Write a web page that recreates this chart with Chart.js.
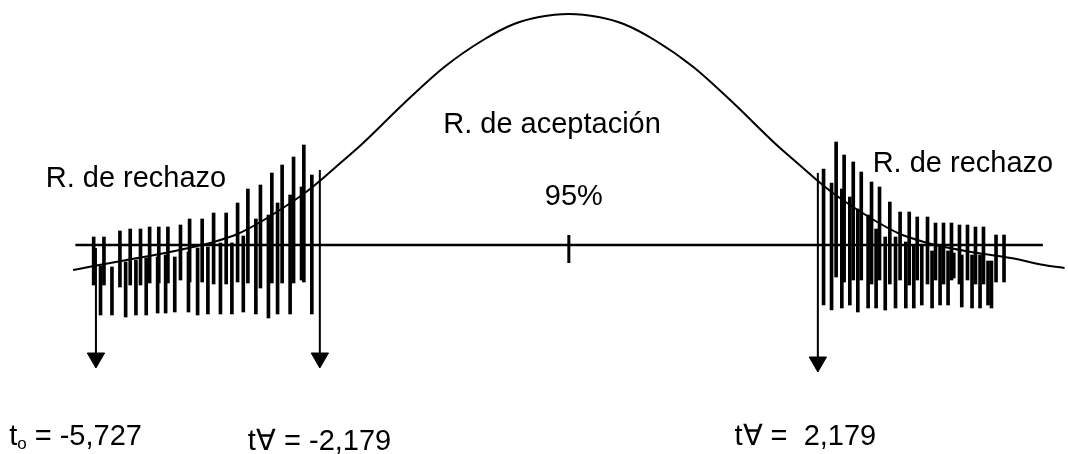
<!DOCTYPE html>
<html lang="es">
<head>
<meta charset="UTF-8">
<title>Distribución t - regiones de aceptación y rechazo</title>
<script src="https://cdn.jsdelivr.net/npm/chart.js"></script>
<style>
    body { margin: 0; background: #fff; }
    #contenedor { width: 1068px; height: 454px; }
</style>
</head>
<body>

<div id="contenedor"><canvas id="grafico"></canvas></div>

<script>
// curva de la distribución (valor t, altura)
const tCurva = [-4.34, -4.16, -3.87, -3.58, -3.29, -3.11, -2.90, -2.70, -2.45, -2.30, -2.16, -2.01, -1.82, -1.44, -1.09, -0.75, -0.48, -0.26, 0,
    0.26, 0.48, 0.75, 1.09, 1.44, 1.82, 2.01, 2.16, 2.30, 2.45, 2.70, 2.90, 3.11, 3.29, 3.58, 3.87, 4.16, 4.34];
const yCurva = [-0.25, -0.21, -0.15, -0.09, -0.02, 0.03, 0.11, 0.23, 0.41, 0.53, 0.66, 0.81, 1.00, 1.42, 1.78, 2.05, 2.21, 2.28, 2.31,
    2.28, 2.21, 2.05, 1.78, 1.42, 1.00, 0.81, 0.66, 0.53, 0.41, 0.23, 0.11, 0.03, -0.02, -0.08, -0.13, -0.20, -0.23];

// eje horizontal y marca del centro
const tEje = [-4.32, 4.15];
const yMarca = [0.10, -0.18];

// rayado de las regiones de rechazo (izquierda y derecha)
const tRayas = [-4.16, -4.10, -4.07, -4.00, -3.93, -3.88, -3.84, -3.79, -3.75, -3.70,
    -3.67, -3.60, -3.59, -3.53, -3.51, -3.45, -3.40, -3.33, -3.32, -3.25,
    -3.21, -3.16, -3.11, -3.05, -3.00, -2.95, -2.90, -2.85, -2.81, -2.74,
    -2.70, -2.63, -2.60, -2.55, -2.51, -2.44, -2.41, -2.34, -2.32, -2.25,
    2.23, 2.30, 2.34, 2.39, 2.41, 2.46, 2.49, 2.53, 2.56, 2.62,
    2.65, 2.69, 2.72, 2.77, 2.81, 2.86, 2.90, 2.95, 2.98, 3.02,
    3.05, 3.09, 3.14, 3.18, 3.21, 3.25, 3.28, 3.32, 3.35, 3.37,
    3.42, 3.44, 3.49, 3.53, 3.56, 3.60, 3.63, 3.67, 3.70, 3.74, 3.81];
const rayasArriba = [0.08, -0.21, 0.08, -0.22, 0.14, -0.17, 0.16, -0.15, 0.16, -0.13,
    0.18, -0.12, 0.18, -0.10, 0.18, -0.12, 0.20, -0.07, 0.26, -0.03,
    0.26, -0.02, 0.32, 0.02, 0.32, 0.02, 0.42, 0.09, 0.56, 0.26,
    0.60, 0.30, 0.72, 0.42, 0.80, 0.50, 0.88, 0.58, 1.00, 0.70,
    0.76, 0.62, 1.03, 0.56, 0.90, 0.48, 0.83, 0.36, 0.73, 0.30,
    0.63, 0.16, 0.58, 0.08, 0.43, 0.08, 0.33, 0.03, 0.33, -0.01,
    0.28, -0.01, 0.28, -0.06, 0.22, -0.01, 0.22, -0.06, 0.22, -0.08,
    0.20, -0.10, 0.20, -0.10, 0.18, -0.10, 0.18, -0.16, -0.16, 0.10, 0.10];
const rayasAbajo = [-0.40, -0.70, -0.40, -0.70, -0.42, -0.72, -0.40, -0.70, -0.40, -0.70,
    -0.38, -0.68, -0.38, -0.68, -0.38, -0.67, -0.35, -0.67, -0.37, -0.70,
    -0.37, -0.69, -0.39, -0.69, -0.39, -0.69, -0.37, -0.67, -0.38, -0.69,
    -0.43, -0.73, -0.38, -0.69, -0.38, -0.69, -0.38, -0.35, -0.37, -0.69,
    -0.60, -0.65, -0.32, -0.63, -0.37, -0.60, -0.35, -0.67, -0.35, -0.63,
    -0.39, -0.63, -0.35, -0.65, -0.39, -0.63, -0.35, -0.63, -0.40, -0.63,
    -0.35, -0.60, -0.39, -0.63, -0.35, -0.60, -0.39, -0.60, -0.35, -0.33,
    -0.39, -0.62, -0.35, -0.63, -0.39, -0.63, -0.39, -0.60, -0.63, -0.37, -0.37];

// flechas: t0 y los dos valores críticos
const tFlechas = [-4.14, -2.18, 2.18];
const flechaDesde = [-0.03, 0.75, 0.72];
const flechaHasta = [-1.13, -1.13, -1.17];

// textos
const regiones = ['R. de rechazo', 'R. de aceptación', '95%', 'R. de rechazo'];
const valoresT = ['-5,727', '-2,179', ' 2,179'];

const fuente = '"Liberation Sans", Arial, sans-serif';

// escribe los textos usando las escalas del gráfico
const textos = {
    id: 'textos',
    afterDatasetsDraw(chart) {
        const ctx = chart.ctx;
        const sx = chart.scales.x;
        const sy = chart.scales.y;
        const px = t => sx.getPixelForValue(t);
        const py = v => sy.getPixelForValue(v);

        ctx.save();
        ctx.fillStyle = '#000';
        ctx.textBaseline = 'alphabetic';
        ctx.font = '29px ' + fuente;

        const posRegiones = [[-4.58, 0.58], [-1.10, 1.12], [-0.21, 0.40], [2.66, 0.73]];
        regiones.forEach((txt, i) => {
            ctx.fillText(txt, px(posRegiones[i][0]), py(posRegiones[i][1]));
        });

        // t con subíndice o
        let x0 = px(-4.90), y0 = py(-2.00);
        ctx.fillText('t', x0, y0);
        x0 += ctx.measureText('t').width;
        ctx.font = '17px ' + fuente;
        ctx.fillText('o', x0, y0 + 4);
        x0 += ctx.measureText('o').width;
        ctx.font = '29px ' + fuente;
        ctx.fillText(' = ' + valoresT[0], x0, y0);

        ctx.fillText('t\u2200 = ' + valoresT[1], px(-2.81), py(-2.05));
        ctx.fillText('t\u2200 = ' + valoresT[2], px(1.45), py(-2.00));
        ctx.restore();
    }
};

const datasets = [];

// rayas verticales como barras flotantes
datasets.push({
    type: 'bar',
    data: tRayas.map((t, i) => ({ x: t, y: [rayasAbajo[i], rayasArriba[i]] })),
    backgroundColor: '#000',
    borderWidth: 0,
    barThickness: 3,
    grouped: false
});

// curva
datasets.push({
    type: 'line',
    data: tCurva.map((t, i) => ({ x: t, y: yCurva[i] })),
    borderColor: '#000',
    borderWidth: 2,
    pointRadius: 0,
    cubicInterpolationMode: 'monotone'
});

// eje
datasets.push({
    type: 'line',
    data: tEje.map(t => ({ x: t, y: 0 })),
    borderColor: '#000',
    borderWidth: 2.5,
    pointRadius: 0
});

// marca central
datasets.push({
    type: 'line',
    data: yMarca.map(v => ({ x: 0, y: v })),
    borderColor: '#000',
    borderWidth: 3,
    pointRadius: 0
});

// flechas
for (let i = 0; i < tFlechas.length; i++) {
    datasets.push({
        type: 'line',
        data: [{ x: tFlechas[i], y: flechaDesde[i] }, { x: tFlechas[i], y: flechaHasta[i] }],
        borderColor: '#000',
        borderWidth: 2,
        pointRadius: [0, 10],
        pointStyle: 'triangle',
        pointRotation: 180,
        pointBackgroundColor: '#000',
        pointBorderColor: '#000',
        pointBorderWidth: 1
    });
}

new Chart(document.getElementById('grafico'), {
    type: 'line',
    data: { datasets: datasets },
    options: {
        responsive: true,
        maintainAspectRatio: false,
        animation: false,
        layout: { padding: 0, autoPadding: false },
        plugins: {
            legend: { display: false },
            tooltip: { enabled: false }
        },
        scales: {
            x: { type: 'linear', min: -4.98, max: 4.37, display: false, offset: false },
            y: { type: 'linear', min: -2.09, max: 2.45, display: false }
        }
    },
    plugins: [textos]
});
</script>
</body>
</html>
